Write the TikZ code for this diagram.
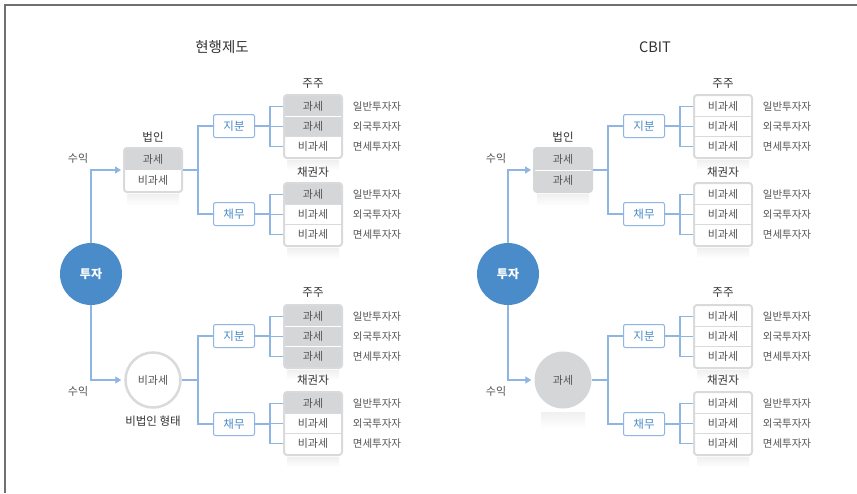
\documentclass[tikz,border=0pt]{standalone}
\usepackage{fontspec}
\setmainfont{Noto Sans CJK KR}
\usetikzlibrary{arrows.meta}
\definecolor{blueC}{HTML}{4A8BC9}
\definecolor{lineB}{HTML}{8FB5E3}
\definecolor{bord}{HTML}{D9DADB}
\definecolor{cellG}{HTML}{D5D6D8}
\definecolor{txtG}{HTML}{555555}
\definecolor{txtD}{HTML}{333333}
\definecolor{frameG}{HTML}{707070}
\tikzset{
  cellbase/.style={minimum width=56pt, minimum height=20.33pt, inner sep=0pt, font=\fontsize{11}{13}\selectfont, text=txtG},
  gcell/.style={cellbase, fill=cellG},
  wcell/.style={cellbase, fill=white},
  boxframe/.style={draw=bord, line width=2pt, rounded corners=3pt, inner sep=0pt},
  tagbox/.style={draw=lineB, line width=1pt, rounded corners=2pt, fill=white, minimum width=41pt, minimum height=23pt, inner sep=0pt, text=blueC, font=\fontsize{11.5}{13}\selectfont},
  conn/.style={draw=lineB, line width=1.3pt},
  arr/.style={conn, -{Triangle[length=6pt, width=7pt]}},
  lab/.style={text=txtD, font=\fontsize{11.5}{13}\selectfont, inner sep=0pt},
  ttl/.style={text=txtD, font=\fontsize{14.5}{16}\selectfont, inner sep=0pt},
  inv/.style={text=txtG, font=\fontsize{10.5}{12}\selectfont, inner sep=0pt},
  gain/.style={text=txtG, font=\fontsize{11}{13}\selectfont, inner sep=0pt},
  invest/.style={circle, fill=blueC, minimum size=62pt, inner sep=0pt, text=white, font=\bfseries\fontsize{12}{14}\selectfont},
  ncirc/.style={circle, draw=bord, line width=2.5pt, fill=white, minimum size=55pt, inner sep=0pt, text=txtG, font=\fontsize{11}{13}\selectfont},
  tcirc/.style={circle, fill=cellG, minimum size=57pt, inner sep=0pt, text=txtG, font=\fontsize{11}{13}\selectfont},
  shadowb/.style={top color=black!6, bottom color=white, draw=none},
}
\newcommand\resbox[9]{%
  \shade[shadowb] (#2+4,#3+66) rectangle (#2+56,#3+76);
  \node[#4] (#1a) at (#2+30,#3+12.17) {#5};
  \node[#6] (#1b) at (#2+30,#3+32.5) {#7};
  \node[#8] (#1c) at (#2+30,#3+52.83) {#9};
  \draw[bord, line width=1pt] (#1a.south west) -- (#1a.south east);
  \draw[bord, line width=1pt] (#1b.south west) -- (#1b.south east);
  \node[boxframe, minimum width=58pt, minimum height=63pt] (#1f) at (#2+30,#3+32.5) {};
  \node[inv] (#1x) at (#2+94,#3+12.17) {일반투자자};
  \node[inv] (#1y) at (#2+94,#3+32.5) {외국투자자};
  \node[inv] (#1z) at (#2+94,#3+52.83) {면세투자자};
}
\begin{document}
\begin{tikzpicture}[x=1pt, y=-1pt]
\useasboundingbox (0,0) rectangle (857,493);
\fill[white] (0,0) rectangle (857,493);
\draw[frameG, line width=2pt] (4.5,493) -- (4.5,5) -- (857,5);

% ================= LEFT PANEL =================
\node[ttl] (lTitle) at (222,47) {현행제도};
\node[invest] (lT) at (91,274) {투자};
\node[gain] (lG1) at (78,158) {수익};
\node[gain] (lG2) at (78,391) {수익};

% 법인
\shade[shadowb] (127,194) rectangle (179,206);
\node[gcell, minimum height=21pt] (lB1) at (153,159.5) {과세};
\node[wcell, minimum height=21pt] (lB2) at (153,180.5) {비과세};
\node[boxframe, minimum width=58pt, minimum height=44pt] (lB) at (153,170) {};
\node[lab] (lBL) at (153,137) {법인};

% tags
\node[tagbox] (lTJ) at (234,126) {지분};
\node[tagbox] (lTC) at (234,214) {채무};
\resbox{lSJ}{283}{94}{gcell}{과세}{gcell}{과세}{wcell}{비과세}
\draw[white, line width=1pt] (lSJa.south west) -- (lSJa.south east);
\resbox{lSC}{283}{182}{gcell}{과세}{wcell}{비과세}{wcell}{비과세}
\node[lab] (lSJL) at (313,84) {주주};
\node[lab] (lSCL) at (313,172) {채권자};

% bottom
\node[ncirc] (lN) at (153,380) {비과세};
\node[lab] (lNL) at (153,421) {비법인 형태};
\node[tagbox] (lTJ2) at (234,336) {지분};
\node[tagbox] (lTC2) at (234,424) {채무};
\resbox{lSJ2}{283}{304}{gcell}{과세}{gcell}{과세}{gcell}{과세}
\draw[white, line width=1pt] (lSJ2a.south west) -- (lSJ2a.south east);
\draw[white, line width=1pt] (lSJ2b.south west) -- (lSJ2b.south east);
\resbox{lSC2}{283}{391}{gcell}{과세}{wcell}{비과세}{wcell}{비과세}
\node[lab] (lSJL2) at (313,293) {주주};
\node[lab] (lSCL2) at (313,380) {채권자};

% connectors
\draw[arr, shorten >=2pt] (lT.north) |- (lB.west);
\draw[arr, shorten >=3pt] (lT.south) |- (lN.west);
\coordinate (lBj) at (198,170);
\draw[conn] (lB.east) -- (lBj);
\draw[conn] (lBj) |- (lTJ.west);
\draw[conn] (lBj) |- (lTC.west);
\coordinate (lJj) at (270,126);
\draw[conn] (lTJ.east) -- (lJj);
\foreach \r in {a,b,c} \draw[conn, shorten >=2pt] (lJj) |- (lSJ\r.west);
\coordinate (lCj) at (270,214);
\draw[conn] (lTC.east) -- (lCj);
\foreach \r in {a,b,c} \draw[conn, shorten >=2pt] (lCj) |- (lSC\r.west);
\coordinate (lNj) at (198,380);
\draw[conn] (lN.east) -- (lNj);
\draw[conn] (lNj) |- (lTJ2.west);
\draw[conn] (lNj) |- (lTC2.west);
\coordinate (lJj2) at (270,336);
\draw[conn] (lTJ2.east) -- (lJj2);
\foreach \r in {a,b,c} \draw[conn, shorten >=2pt] (lJj2) |- (lSJ2\r.west);
\coordinate (lCj2) at (270,424);
\draw[conn] (lTC2.east) -- (lCj2);
\foreach \r in {a,b,c} \draw[conn, shorten >=2pt] (lCj2) |- (lSC2\r.west);

% ================= RIGHT PANEL =================
\begin{scope}[xshift=410pt]
\node[ttl] (rTitle) at (245,47) {CBIT};
\node[invest] (rT) at (98,274) {투자};
\node[gain] (rG1) at (86,158) {수익};
\node[gain] (rG2) at (86,391) {수익};

\shade[shadowb] (127,194) rectangle (179,206);
\node[gcell, minimum height=21pt] (rB1) at (153,159.5) {과세};
\node[gcell, minimum height=21pt] (rB2) at (153,180.5) {과세};
\draw[white, line width=1pt] (rB1.south west) -- (rB1.south east);
\node[boxframe, draw=cellG, minimum width=58pt, minimum height=44pt] (rB) at (153,170) {};
\node[lab] (rBL) at (153,137) {법인};

\node[tagbox] (rTJ) at (234,126) {지분};
\node[tagbox] (rTC) at (234,214) {채무};
\resbox{rSJ}{283}{94}{wcell}{비과세}{wcell}{비과세}{wcell}{비과세}
\resbox{rSC}{283}{182}{wcell}{비과세}{wcell}{비과세}{wcell}{비과세}
\node[lab] (rSJL) at (313,84) {주주};
\node[lab] (rSCL) at (313,172) {채권자};

\shade[shadowb] (131,412) rectangle (175,428);
\node[tcirc] (rN) at (153,380) {과세};
\node[tagbox] (rTJ2) at (234,336) {지분};
\node[tagbox] (rTC2) at (234,424) {채무};
\resbox{rSJ2}{283}{304}{wcell}{비과세}{wcell}{비과세}{wcell}{비과세}
\resbox{rSC2}{283}{391}{wcell}{비과세}{wcell}{비과세}{wcell}{비과세}
\node[lab] (rSJL2) at (313,293) {주주};
\node[lab] (rSCL2) at (313,380) {채권자};

\draw[arr, shorten >=2pt] (rT.north) |- (rB.west);
\draw[arr, shorten >=3pt] (rT.south) |- (rN.west);
\coordinate (rBj) at (198,170);
\draw[conn] (rB.east) -- (rBj);
\draw[conn] (rBj) |- (rTJ.west);
\draw[conn] (rBj) |- (rTC.west);
\coordinate (rJj) at (270,126);
\draw[conn] (rTJ.east) -- (rJj);
\foreach \r in {a,b,c} \draw[conn, shorten >=2pt] (rJj) |- (rSJ\r.west);
\coordinate (rCj) at (270,214);
\draw[conn] (rTC.east) -- (rCj);
\foreach \r in {a,b,c} \draw[conn, shorten >=2pt] (rCj) |- (rSC\r.west);
\coordinate (rNj) at (198,380);
\draw[conn] (rN.east) -- (rNj);
\draw[conn] (rNj) |- (rTJ2.west);
\draw[conn] (rNj) |- (rTC2.west);
\coordinate (rJj2) at (270,336);
\draw[conn] (rTJ2.east) -- (rJj2);
\foreach \r in {a,b,c} \draw[conn, shorten >=2pt] (rJj2) |- (rSJ2\r.west);
\coordinate (rCj2) at (270,424);
\draw[conn] (rTC2.east) -- (rCj2);
\foreach \r in {a,b,c} \draw[conn, shorten >=2pt] (rCj2) |- (rSC2\r.west);
\end{scope}
\end{tikzpicture}
\end{document}
